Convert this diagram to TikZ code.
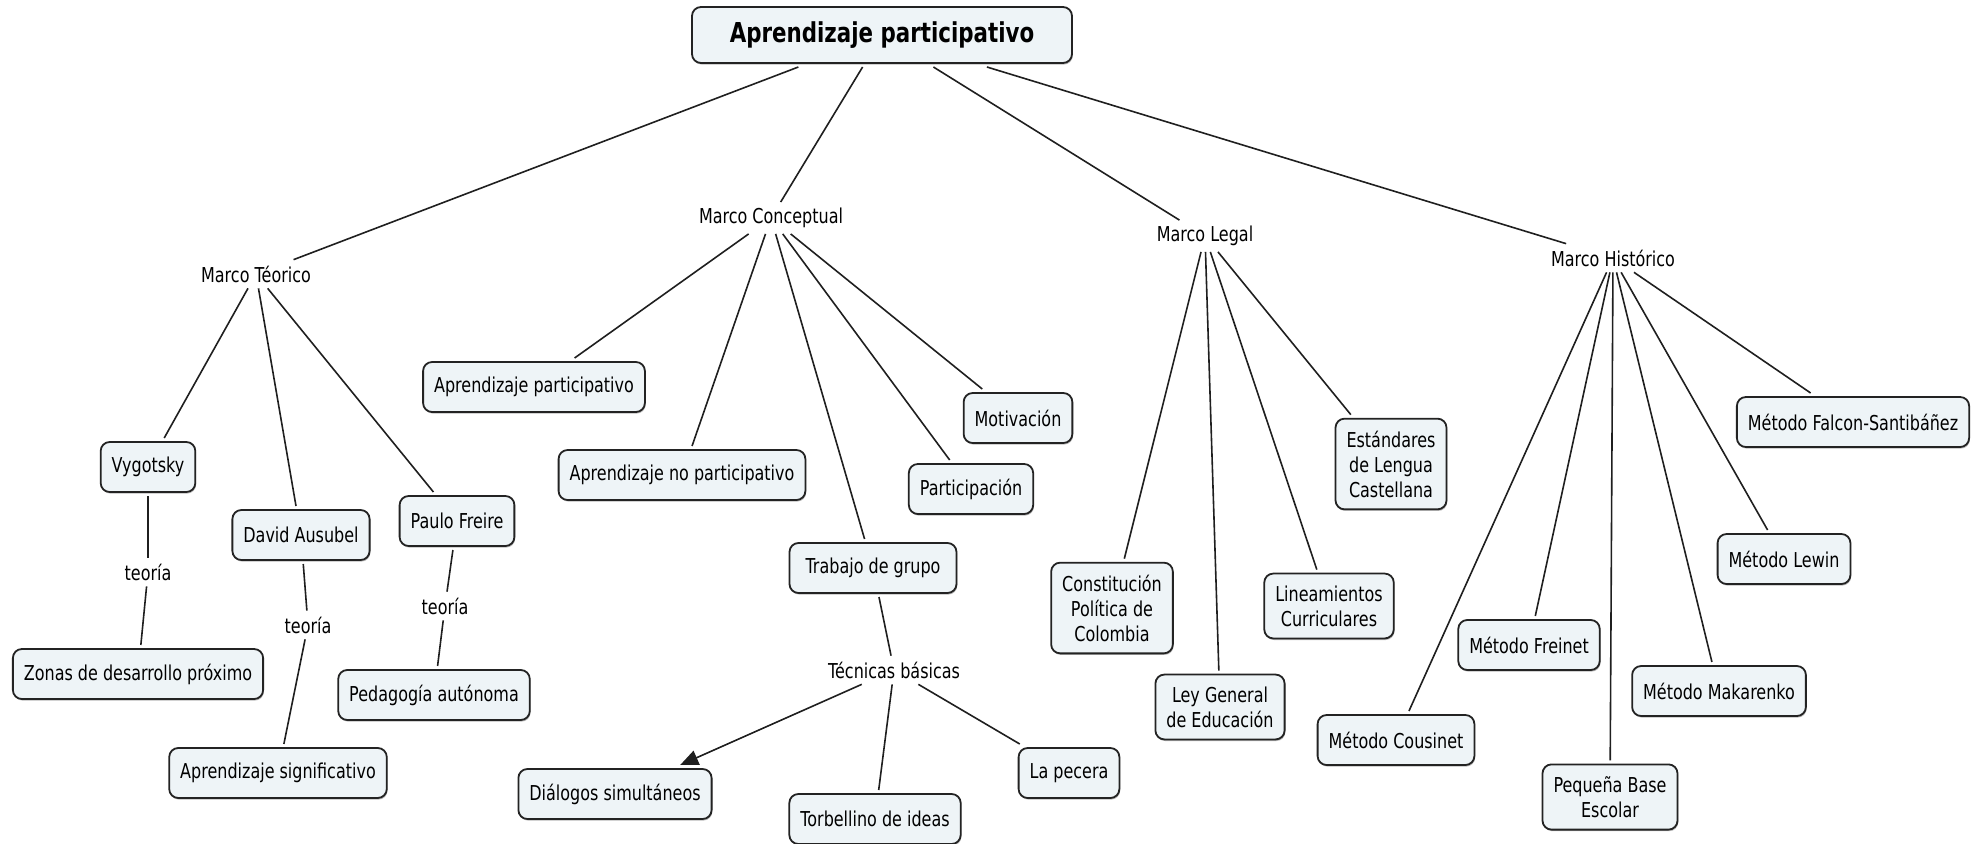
\documentclass[tikz,border=0pt]{standalone}
\usepackage{fontspec}
\setmainfont{DejaVu Sans}[FakeStretch=0.78]
\usetikzlibrary{arrows.meta,shadows}
\definecolor{boxfill}{RGB}{238,244,247}
\definecolor{boxline}{RGB}{35,35,35}
\begin{document}
\begin{tikzpicture}[x=1pt,y=-1pt,
  cbox/.style={draw=boxline, fill=boxfill, rounded corners=9pt, line width=1.8pt,
    inner xsep=11pt, inner ysep=12pt, minimum height=50pt, align=center,
    font=\fontsize{20.5}{25}\selectfont, outer sep=4pt,
    drop shadow={shadow xshift=0.8pt, shadow yshift=-1.6pt, fill=black!45, opacity=0.6}},
  lab/.style={inner sep=3pt, outer sep=3pt, font=\fontsize{20.5}{25}\selectfont},
  link/.style={line width=1.6pt, draw=black!88}]
\useasboundingbox (0,0) rectangle (1980,843);

% root
\node[cbox, minimum width=380pt, minimum height=56pt, inner ysep=6pt,
  font=\fontsize{27.4}{31}\selectfont\bfseries] (root) at (882,35) {Aprendizaje participativo};

% level 1
\node[lab] (mt) at (256,274) {Marco Téorico};
\node[lab] (mc) at (771,218) {Marco Conceptual};
\node[lab] (ml) at (1205,236) {Marco Legal};
\node[lab] (mh) at (1613,258) {Marco Histórico};

% Marco Teorico
\node[cbox] (vyg) at (148,467) {Vygotsky};
\node[cbox] (aus) at (301,535) {David Ausubel};
\node[cbox] (fre) at (457,521) {Paulo Freire};
\node[lab] (t1) at (148,572) {teoría};
\node[lab] (t2) at (308,625) {teoría};
\node[lab] (t3) at (445,606) {teoría};
\node[cbox] (zon) at (138,674) {Zonas de desarrollo próximo};
\node[cbox] (sig) at (278,773) {Aprendizaje significativo};
\node[cbox] (ped) at (434,695) {Pedagogía autónoma};

% Marco Conceptual
\node[cbox] (ap) at (534,387) {Aprendizaje participativo};
\node[cbox] (anp) at (682,475) {Aprendizaje no participativo};
\node[cbox, minimum width=167pt] (tg) at (873,568) {Trabajo de grupo};
\node[lab] (tb) at (894,670) {Técnicas básicas};
\node[cbox] (par) at (971,489) {Participación};
\node[cbox] (mot) at (1018,418) {Motivación};
\node[cbox] (dia) at (615,794) {Diálogos simultáneos};
\node[cbox] (tor) at (875,819) {Torbellino de ideas};
\node[cbox] (pec) at (1069,773) {La pecera};

% Marco Legal
\node[cbox] (con) at (1112,608) {Constitución\\Política de\\Colombia};
\node[cbox] (ley) at (1220,707) {Ley General\\de Educación};
\node[cbox] (lin) at (1329,606) {Lineamientos\\Curriculares};
\node[cbox] (est) at (1391,464) {Estándares\\de Lengua\\Castellana};

% Marco Historico
\node[cbox] (cou) at (1396,740) {Método Cousinet};
\node[cbox] (frei) at (1529,645) {Método Freinet};
\node[cbox] (peq) at (1610,797) {Pequeña Base\\Escolar};
\node[cbox] (mak) at (1719,691) {Método Makarenko};
\node[cbox] (lew) at (1784,559) {Método Lewin};
\node[cbox] (fal) at (1853,422) {Método Falcon-Santibáñez};

% connectors
\draw[link] (root) -- (mt);
\draw[link] (root) -- (mc);
\draw[link] (root) -- (ml);
\draw[link] (root) -- (mh);

\draw[link] (mt) -- (vyg);
\draw[link] (mt) -- (aus);
\draw[link] (mt) -- (fre);
\draw[link] (vyg) -- (t1);
\draw[link] (t1) -- (zon);
\draw[link] (aus) -- (t2);
\draw[link] (t2) -- (sig);
\draw[link] (fre) -- (t3);
\draw[link] (t3) -- (ped);

\draw[link] (mc) -- (ap);
\draw[link] (mc) -- (anp);
\draw[link] (mc) -- (tg);
\draw[link] (mc) -- (par);
\draw[link] (mc) -- (mot);
\draw[link] (tg) -- (tb);
\draw[link, -{Triangle[length=18pt,width=15pt]}] (tb) -- (dia);
\draw[link] (tb) -- (tor);
\draw[link] (tb) -- (pec);

\draw[link] (ml) -- (con);
\draw[link] (ml) -- (ley);
\draw[link] (ml) -- (lin);
\draw[link] (ml) -- (est);

\draw[link] (mh) -- (cou);
\draw[link] (mh) -- (frei);
\draw[link] (mh) -- (peq);
\draw[link] (mh) -- (mak);
\draw[link] (mh) -- (lew);
\draw[link] (mh) -- (fal);
\end{tikzpicture}
\end{document}
